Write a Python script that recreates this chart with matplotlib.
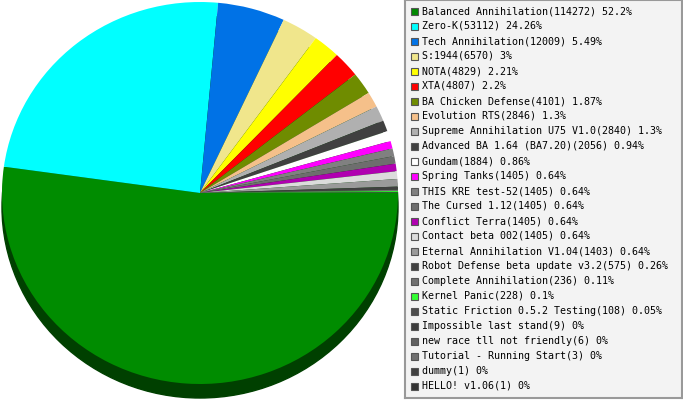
import matplotlib
matplotlib.use('Agg')
import matplotlib.pyplot as plt
from matplotlib.patches import Ellipse, Rectangle

# Datos: juegos y numero de partidas
juegos = ['Balanced Annihilation', 'Zero-K', 'Tech Annihilation', 'S:1944', 'NOTA', 'XTA',
          'BA Chicken Defense', 'Evolution RTS', 'Supreme Annihilation U75 V1.0',
          'Advanced BA 1.64 (BA7.20)', 'Gundam', 'Spring Tanks', 'THIS KRE test-52',
          'The Cursed 1.12', 'Conflict Terra', 'Contact beta 002', 'Eternal Annihilation V1.04',
          'Robot Defense beta update v3.2', 'Complete Annihilation', 'Kernel Panic',
          'Static Friction 0.5.2 Testing', 'Impossible last stand', 'new race tll not friendly',
          'Tutorial - Running Start', 'dummy', 'HELLO! v1.06']
partidas = [114272, 53112, 12009, 6570, 4829, 4807, 4101, 2846, 2840, 2056, 1884,
            1405, 1405, 1405, 1405, 1405, 1403, 575, 236, 228, 108, 9, 6, 3, 1, 1]
porcentajes = ['52.2', '24.26', '5.49', '3', '2.21', '2.2', '1.87', '1.3', '1.3', '0.94', '0.86',
               '0.64', '0.64', '0.64', '0.64', '0.64', '0.64', '0.26', '0.11', '0.1', '0.05',
               '0', '0', '0', '0', '0']
colores = ['#008c00', '#00ffff', '#0072e6', '#f0e68c', '#ffff00', '#ff0000', '#6f8c00',
           '#f5c08a', '#b0b0b0', '#404040', '#ffffff', '#ff00ff', '#808080', '#6e6e6e',
           '#b000b0', '#dcdcdc', '#9a9a9a', '#404040', '#707070', '#33ff33', '#4d4d4d',
           '#3c3c3c', '#606060', '#707070', '#404040', '#333333']
color_legenda = list(colores)
color_legenda[0] = '#008800'

W, H = 683, 400
fig = plt.figure(figsize=(W / 100, H / 100), dpi=100)

# Pastel (elipse) con sombra
cx, cy, rx, ry = 200, 193, 198, 191
ax = fig.add_axes([(cx - rx) / W, (H - cy - ry) / H, 2 * rx / W, 2 * ry / H])
ax.axis('off')
prof = 14 / ry
ax.add_patch(Ellipse((0, -prof), 2, 2, color='#004000', zorder=0, clip_on=False))
wedges, _ = ax.pie(partidas, colors=colores, startangle=0, counterclock=False,
                   radius=1, wedgeprops={'linewidth': 0})
for w in wedges:
    w.set_clip_on(False)
ax.set_aspect('auto')
ax.set_xlim(-1, 1)
ax.set_ylim(-1, 1)

# Leyenda
lx0, lx1, ly0, ly1 = 405, 682, 0, 398
axl = fig.add_axes([lx0 / W, (H - ly1) / H, (lx1 - lx0) / W, (ly1 - ly0) / H])
axl.set_xlim(lx0, lx1)
axl.set_ylim(ly1, ly0)
axl.set_xticks([])
axl.set_yticks([])
axl.set_facecolor('#f3f3f3')
for s in axl.spines.values():
    s.set_color('#999999')
    s.set_linewidth(1.5)

for i, (j, p, c) in enumerate(zip(juegos, partidas, color_legenda)):
    y = 11 + i * 15
    axl.add_patch(Rectangle((411, y - 3.5), 7, 7, facecolor=c, edgecolor='#555555', linewidth=0.8))
    axl.text(422, y, f'{j}({p}) {porcentajes[i]}%', fontsize=7.2, family='DejaVu Sans Mono',
             va='center', ha='left', color='black')

plt.savefig('out.png', dpi=100)
